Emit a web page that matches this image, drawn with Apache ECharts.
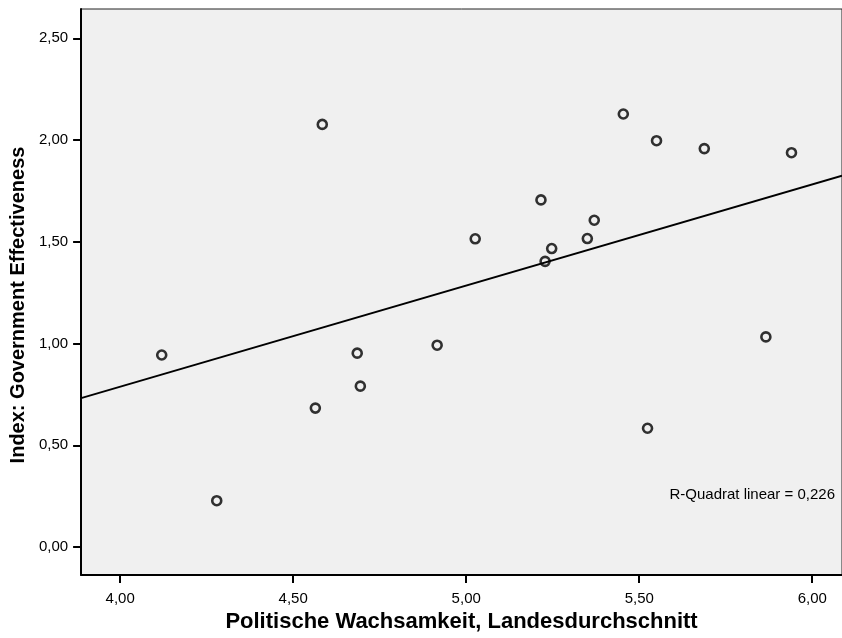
<!DOCTYPE html>
<html>
<head>
<meta charset="utf-8">
<script src="https://cdn.jsdelivr.net/npm/echarts@6/dist/echarts.min.js"></script>
<style>html,body{margin:0;padding:0;background:#fff;}#c{width:842px;height:638px;}</style>
</head>
<body>
<div id="c"></div>
<script>
var xValues = [4.120, 4.279, 4.584, 4.564, 4.685, 4.694, 4.916, 5.026, 5.216, 5.228, 5.247, 5.350, 5.370, 5.454, 5.550, 5.688, 5.524, 5.866, 5.940];
var yValues = [0.944, 0.228, 2.077, 0.683, 0.953, 0.791, 0.992, 1.515, 1.706, 1.404, 1.467, 1.516, 1.606, 2.128, 1.997, 1.958, 0.584, 1.033, 1.938];
var xTicks = [4.00, 4.50, 5.00, 5.50, 6.00];
var yTicks = [0.00, 0.50, 1.00, 1.50, 2.00, 2.50];
// linear fit as shown in the chart: [intercept, slope]
var fitCoef = [-1.200, 0.497];
var xTitle = 'Politische Wachsamkeit, Landesdurchschnitt';
var yTitle = 'Index: Government Effectiveness';
var rsqLabel = 'R-Quadrat linear = 0,226';

var X_MIN = 3.887, X_MAX = 6.086, Y_MIN = -0.137, Y_MAX = 2.644;

var pts = xValues.map(function (x, i) { return [x, yValues[i]]; });
var fit = [[X_MIN, fitCoef[0] + fitCoef[1] * X_MIN], [X_MAX, fitCoef[0] + fitCoef[1] * X_MAX]];

function fmt(v) { return v.toFixed(2).replace('.', ','); }
var FONT = 'Liberation Sans, Arial, sans-serif';

var chart = echarts.init(document.getElementById('c'));
chart.setOption({
  animation: false,
  grid: { left: 79, top: 9, right: -3, bottom: 63, show: true, backgroundColor: '#f0f0f0', borderColor: '#222', borderWidth: 1 },
  xAxis: {
    type: 'value', min: X_MIN, max: X_MAX,
    axisLine: { show: true, onZero: false, lineStyle: { color: '#000', width: 2 } },
    axisTick: { show: true, length: 8, lineStyle: { color: '#000', width: 2 }, customValues: xTicks },
    axisLabel: { customValues: xTicks, formatter: fmt, color: '#000', fontFamily: FONT, fontSize: 15, margin: 16 },
    splitLine: { show: false },
    name: xTitle, nameLocation: 'middle', nameGap: 30,
    nameTextStyle: { color: '#000', fontFamily: FONT, fontSize: 22, fontWeight: 'bold' }
  },
  yAxis: {
    type: 'value', min: Y_MIN, max: Y_MAX,
    axisLine: { show: true, onZero: false, lineStyle: { color: '#000', width: 2 } },
    axisTick: { show: true, length: 8, lineStyle: { color: '#000', width: 2 }, customValues: yTicks },
    axisLabel: { customValues: yTicks, formatter: fmt, color: '#000', fontFamily: FONT, fontSize: 15, margin: 13 },
    splitLine: { show: false },
    name: yTitle, nameLocation: 'middle', nameGap: 45, nameRotate: 90,
    nameTextStyle: { color: '#000', fontFamily: FONT, fontSize: 20, fontWeight: 'bold', padding: [0, 26, 0, 0] }
  },
  series: [
    {
      type: 'line', data: fit, showSymbol: false, symbol: 'none',
      lineStyle: { color: '#000', width: 1.8 }, z: 2, silent: true
    },
    {
      type: 'scatter', data: pts, symbol: 'circle', symbolSize: 9,
      itemStyle: { color: 'rgba(0,0,0,0)', borderColor: '#000', borderWidth: 2.6 }, z: 3
    }
  ],
  graphic: [{
    type: 'text', right: 7, top: 487,
    style: { text: rsqLabel, fill: '#000', font: '15px "Liberation Sans", Arial, sans-serif' }
  }]
});
</script>
</body>
</html>
